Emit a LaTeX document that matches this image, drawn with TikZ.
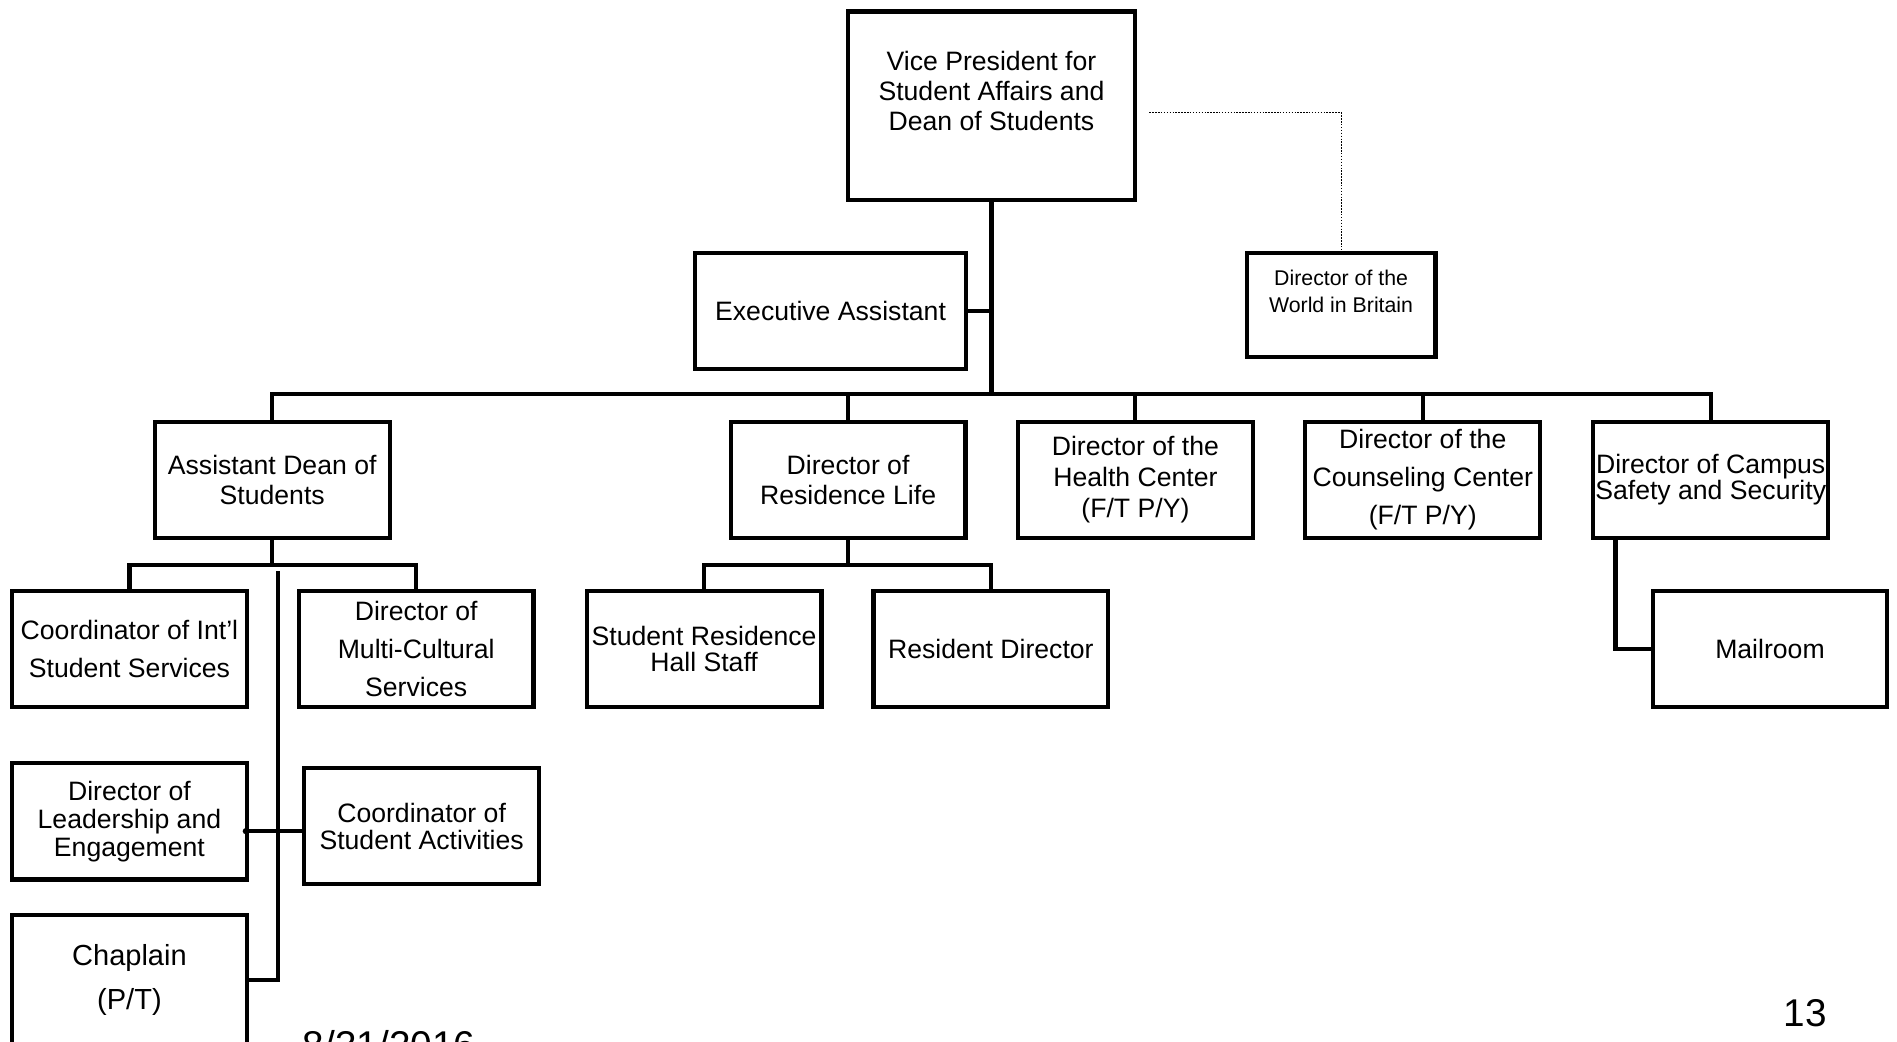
\documentclass[tikz,border=0pt]{standalone}
\usepackage{fontspec}
\setmainfont{Liberation Sans}

\begin{document}
\begin{tikzpicture}[x=0.5pt,y=-0.5pt,
    box/.style={draw, line width=1.7pt, inner sep=0pt, align=center,
      minimum width=97pt, minimum height=48pt,
      font=\fontsize{11}{12.5}\selectfont},
    link/.style={line width=1.7pt}]
  \useasboundingbox (0,0) rectangle (1568,861);

  \node[box, minimum width=118.5pt, minimum height=78pt] (vp) at (819.5,87.5)
    {Vice President for\\Student Affairs and\\Dean of Students\\\mbox{}};
  \node[box, minimum width=112pt] (exec) at (686.5,257) {Executive Assistant};
  \node[box, minimum width=78pt, minimum height=43pt,
    font=\fontsize{8.8}{11}\selectfont] (world) at (1108.5,252)
    {Director of the\\World in Britain\\\mbox{}};

  \node[box] (adean) at (225,396.5) {Assistant Dean of\\Students};
  \node[box] (reslife) at (701,396.5) {Director of\\Residence Life};
  \node[box, font=\fontsize{11}{12.75}\selectfont] (health) at (938.5,396.5)
    {Director of the\\Health Center\\(F/T P/Y)};
  \node[box, font=\fontsize{11}{15.75}\selectfont] (counsel) at (1176,396.5)
    {Director of the\\Counseling Center\\(F/T P/Y)};
  \node[box, font=\fontsize{11}{11}\selectfont] (safety) at (1414,396.5)
    {Director of Campus\\Safety and Security};

  \node[box, font=\fontsize{11}{16}\selectfont] (intl) at (107,536.5)
    {Coordinator of Int’l\\Student Services};
  \node[box, font=\fontsize{11}{15.75}\selectfont] (multi) at (344,536.5)
    {Director of\\Multi-Cultural\\Services};
  \node[box, font=\fontsize{11}{11}\selectfont] (hall) at (582,536.5)
    {Student Residence\\Hall Staff};
  \node[box] (resdir) at (819,536.5) {Resident Director};
  \node[box] (mail) at (1463,536.5) {Mailroom};

  \node[box, font=\fontsize{11}{11.5}\selectfont] (lead) at (107,679)
    {Director of\\Leadership and\\Engagement};
  \node[box, font=\fontsize{11}{11}\selectfont] (activ) at (348.5,683)
    {Coordinator of\\Student Activities};
  \node[box, minimum height=54pt, font=\fontsize{12}{18.5}\selectfont] (chap) at (107,810)
    {Chaplain\\(P/T)};

  \coordinate (bus) at (0,326);
  \draw[link] (vp.south) -- (vp.south |- bus);
  \draw[link] (exec.east) -- (exec.east -| vp.south);
  \draw[link] (adean.north) |- (safety.north |- bus) -- (safety.north);
  \foreach \n in {reslife,health,counsel}{
    \draw[link] (\n.north) -- (\n.north |- bus);
  }
  \coordinate (dots) at (950,93);
  \draw[line width=0.5pt, dash pattern=on 0.6pt off 0.6pt] (dots) -| (world.north);

  \coordinate (subbus) at (0,467);
  \draw[link] (adean.south) -- (adean.south |- subbus);
  \draw[link] (intl.north) |- (multi.north |- subbus) -- (multi.north);
  \draw[link] (reslife.south) -- (reslife.south |- subbus);
  \draw[link] (hall.north) |- (resdir.north |- subbus) -- (resdir.north);

  \coordinate (spine) at (230,472);
  \draw[link] (spine) |- (chap.east);
  \coordinate (actin) at ([yshift=-2pt]activ.west);
  \draw[link] (actin) -- (actin -| lead.east);
  \fill (actin -| lead.east) ++(-2.5,0) circle (1.3pt);

  \draw[link] ([xshift=10pt]safety.south west) |- (mail.west);

  \node[anchor=base west, inner sep=0pt, font=\fontsize{16}{19}\selectfont] (date) at (250,875) {8/31/2016};
  \node[anchor=base west, inner sep=0pt, font=\fontsize{16}{19}\selectfont] (page) at (1474,848.6) {13};
\end{tikzpicture}
\end{document}
